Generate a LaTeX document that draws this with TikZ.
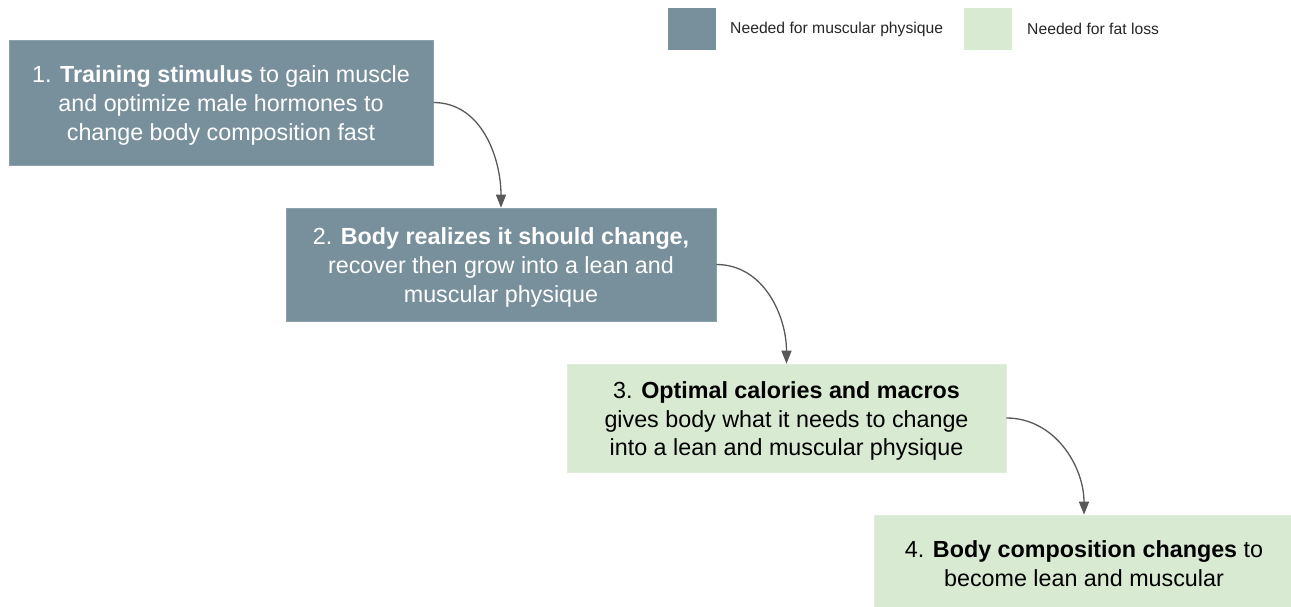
\documentclass[tikz,border=0pt]{standalone}
\usepackage{fontspec}
\setmainfont{Liberation Sans}
\usetikzlibrary{arrows.meta}
\definecolor{darkbox}{RGB}{120,144,156}
\definecolor{lightbox}{RGB}{217,234,211}
\definecolor{arrowcol}{RGB}{89,89,89}
\begin{document}
\begin{tikzpicture}[x=1pt,y=-1pt,
  boxtext/.style={font=\fontsize{23.3}{28.8}\selectfont, align=center, inner sep=0pt},
  darkstep/.style={inner sep=0pt, fill=darkbox, draw=darkbox!85!white, line width=0.6pt},
  lightstep/.style={inner sep=0pt, fill=lightbox, draw=lightbox!85!white, line width=0.6pt},
  legendtext/.style={font=\fontsize{15.7}{18}\selectfont, anchor=west, inner sep=0pt, text=black!85},
  arr/.style={draw=arrowcol, line width=1.3pt, -{Triangle[length=13pt,width=10pt]}}]
\useasboundingbox (0,0) rectangle (1291,606);
\clip (0,0) rectangle (1291,606);
% legend
\node[fill=darkbox, minimum width=48pt, minimum height=42pt, inner sep=0pt] (l1) at (691.5,29) {};
\node[legendtext] (l1t) at (730,29) {Needed for muscular physique};
\node[fill=lightbox, minimum width=48pt, minimum height=42pt, inner sep=0pt] (l2) at (987.5,29) {};
\node[legendtext] (l2t) at (1027,29) {Needed for fat loss};
% boxes
\node[darkstep, minimum width=424pt, minimum height=125pt] (b1) at (221,102.5) {};
\node[boxtext, text=white] (b1t) at ([yshift=-3pt]b1.center)
  {1. \textbf{Training stimulus} to gain muscle\\and optimize male hormones to\\change body composition fast};
\node[darkstep, minimum width=430pt, minimum height=113pt] (b2) at (501,264.5) {};
\node[boxtext, text=white] (b2t) at ([yshift=-3pt]b2.center)
  {2. \textbf{Body realizes it should change,}\\recover then grow into a lean and\\muscular physique};
\node[lightstep, minimum width=439pt, minimum height=108pt] (b3) at (786.5,418) {};
\node[boxtext, text=black] (b3t) at ([yshift=-3pt]b3.center)
  {3. \textbf{Optimal calories and macros}\\gives body what it needs to change\\into a lean and muscular physique};
\node[lightstep, minimum width=420pt, minimum height=94pt] (b4) at (1084,562) {};
\node[boxtext, text=black] (b4t) at ([yshift=-2pt]b4.center)
  {4. \textbf{Body composition changes} to\\become lean and muscular};
% arrows
\draw[arr] (b1.east) to[out=0,in=90] (b2.north);
\draw[arr] (b2.east) to[out=0,in=90] (b3.north);
\draw[arr] (b3.east) to[out=0,in=90] (b4.north);
\end{tikzpicture}
\end{document}
